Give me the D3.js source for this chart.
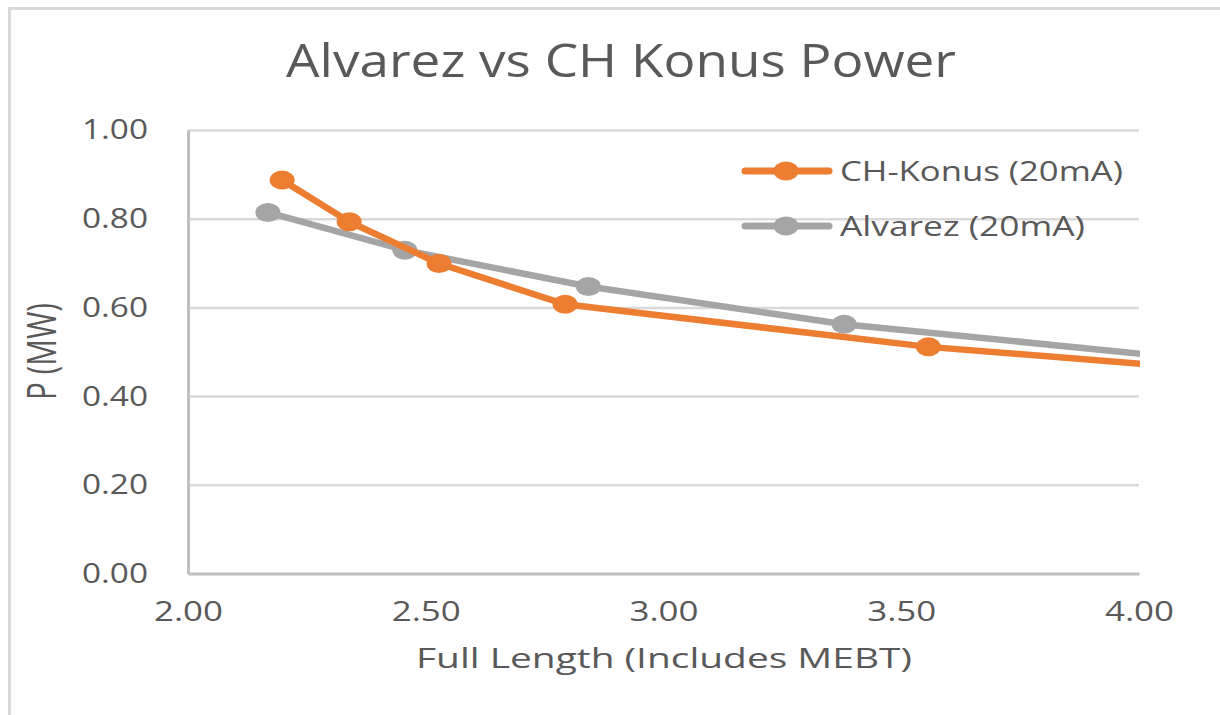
<!DOCTYPE html>
<html>
<head>
<meta charset="utf-8">
<script src="https://cdn.jsdelivr.net/npm/d3@7/dist/d3.min.js"></script>
<style>
  html, body { margin: 0; padding: 0; background: #ffffff; }
  svg { display: block; }
  text { font-family: "Open Sans", "DejaVu Sans", sans-serif; fill: #595959; }
</style>
</head>
<body>
<svg id="chart" width="1220" height="715"></svg>
<script>
// Series: full linac length vs RF power
const konusLength = [2.198, 2.339, 2.528, 2.793, 3.557, 4.40];
const konusPower = [0.887, 0.793, 0.699, 0.607, 0.511, 0.439];
const alvarezLength = [2.168, 2.456, 2.842, 3.380, 4.40];
const alvarezPower = [0.814, 0.729, 0.647, 0.562, 0.453];

const seriesNames = ["CH-Konus (20mA)", "Alvarez (20mA)"];
const seriesColors = ["#ED7D31", "#A5A5A5"];
const xTicks = [2.0, 2.5, 3.0, 3.5, 4.0];
const yTicks = [0.0, 0.2, 0.4, 0.6, 0.8, 1.0];
const titleText = "Alvarez vs CH Konus Power";
const xTitle = "Full Length (Includes MEBT)";
const yTitle = "P (MW)";

const svg = d3.select("#chart");

const plot = { left: 188, right: 1139, top: 130, bottom: 573.5 };
const x = d3.scaleLinear().domain([2, 4]).range([plot.left, plot.right]);
const y = d3.scaleLinear().domain([0, 1]).range([plot.bottom, plot.top]);

// outer chart frame
svg.append("rect")
  .attr("x", 9.5).attr("y", 8.5)
  .attr("width", 1400).attr("height", 900)
  .attr("fill", "#ffffff")
  .attr("stroke", "#d9d9d9").attr("stroke-width", 3);

// title
svg.append("text")
  .attr("x", 286).attr("y", 77)
  .attr("font-size", 45).attr("font-weight", 400)
  .attr("textLength", 670).attr("lengthAdjust", "spacingAndGlyphs")
  .text(titleText);

// horizontal gridlines
const grid = svg.append("g")
  .attr("transform", `translate(${plot.left},0)`)
  .call(d3.axisLeft(y).tickValues(yTicks.filter(v => v > 0)).tickSize(-(plot.right - plot.left)).tickFormat(""));
grid.select(".domain").remove();
grid.selectAll("line").attr("stroke", "#d9d9d9").attr("stroke-width", 2.5);

// y axis
const yAxis = svg.append("g")
  .attr("transform", `translate(${plot.left},0)`)
  .call(d3.axisLeft(y).tickValues(yTicks).tickSize(0).tickPadding(40).tickFormat(d3.format(".2f")));
yAxis.select(".domain").attr("stroke", "#bfbfbf").attr("stroke-width", 3);
yAxis.selectAll("text")
  .attr("font-size", 28).attr("fill", "#595959")
  .attr("font-family", "\"Open Sans\", sans-serif")
  .attr("textLength", 66).attr("lengthAdjust", "spacingAndGlyphs");

// x axis
const xAxis = svg.append("g")
  .attr("transform", `translate(0,${plot.bottom})`)
  .call(d3.axisBottom(x).tickValues(xTicks).tickSize(0).tickPadding(28).tickFormat(d3.format(".2f")));
xAxis.select(".domain").attr("stroke", "#bfbfbf").attr("stroke-width", 3);
xAxis.selectAll("text")
  .attr("font-size", 28).attr("fill", "#595959")
  .attr("font-family", "\"Open Sans\", sans-serif")
  .attr("textLength", 69).attr("lengthAdjust", "spacingAndGlyphs");

// axis titles
svg.append("text")
  .attr("x", 416).attr("y", 668)
  .attr("font-size", 27)
  .attr("textLength", 496).attr("lengthAdjust", "spacingAndGlyphs")
  .text(xTitle);

svg.append("text")
  .attr("transform", "translate(56,400) rotate(-90) scale(1,1.5)")
  .attr("x", 0).attr("y", 0)
  .attr("font-size", 27)
  .attr("textLength", 97).attr("lengthAdjust", "spacingAndGlyphs")
  .text(yTitle);

// clip lines and markers to the plot area
svg.append("defs").append("clipPath").attr("id", "plot-clip")
  .append("rect")
  .attr("x", plot.left).attr("y", 0)
  .attr("width", plot.right + 1 - plot.left).attr("height", 715);

const series = [
  { name: seriesNames[0], color: seriesColors[0], pts: konusLength.map((v, i) => [v, konusPower[i]]) },
  { name: seriesNames[1], color: seriesColors[1], pts: alvarezLength.map((v, i) => [v, alvarezPower[i]]) }
];

const line = d3.line().x(d => x(d[0])).y(d => y(d[1]));
const marks = svg.append("g").attr("clip-path", "url(#plot-clip)");

// draw the first series on top, as in the legend order
series.slice().reverse().forEach(s => {
  const g = marks.append("g");
  g.append("path")
    .datum(s.pts)
    .attr("d", line)
    .attr("fill", "none")
    .attr("stroke", s.color)
    .attr("stroke-width", 6.5)
    .attr("stroke-linejoin", "round")
    .attr("stroke-linecap", "round");
  g.selectAll("ellipse")
    .data(s.pts)
    .join("ellipse")
    .attr("cx", d => x(d[0]))
    .attr("cy", d => y(d[1]))
    .attr("rx", 12.5).attr("ry", 9.5)
    .attr("fill", s.color);
});

// legend
const legendY = [171, 226];
const legendTextLen = [283, 245];
series.forEach((s, i) => {
  const g = svg.append("g");
  g.append("line")
    .attr("x1", 745).attr("x2", 829)
    .attr("y1", legendY[i]).attr("y2", legendY[i])
    .attr("stroke", s.color).attr("stroke-width", 7)
    .attr("stroke-linecap", "round");
  g.append("ellipse")
    .attr("cx", 786).attr("cy", legendY[i])
    .attr("rx", 12.5).attr("ry", 9.5)
    .attr("fill", s.color);
  g.append("text")
    .attr("x", 840).attr("y", legendY[i] + 10)
    .attr("font-size", 27)
    .attr("textLength", legendTextLen[i]).attr("lengthAdjust", "spacingAndGlyphs")
    .text(s.name);
});
</script>
</body>
</html>
